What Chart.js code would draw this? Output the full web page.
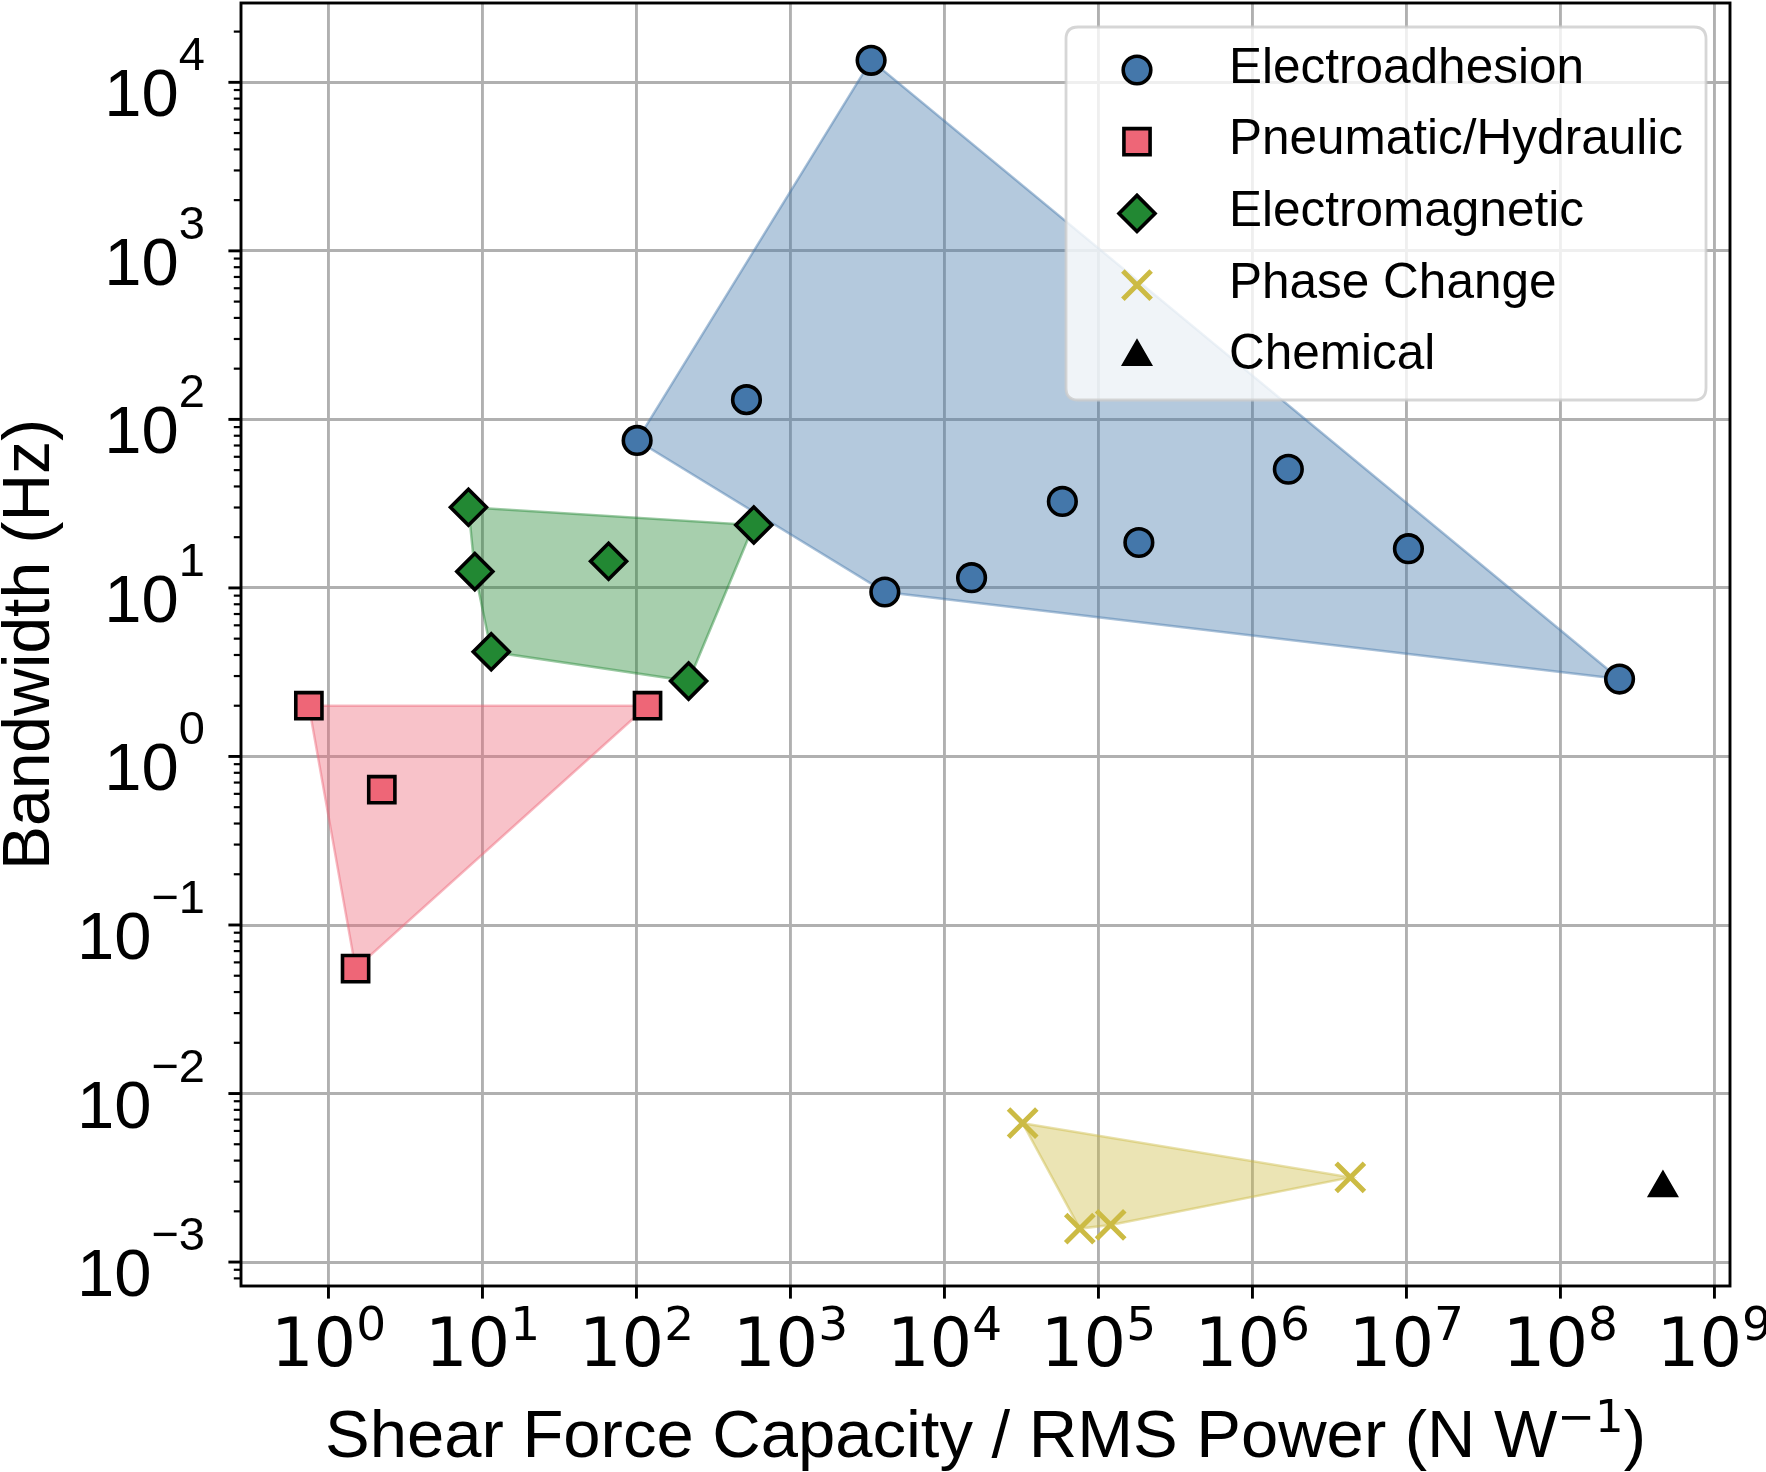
<!DOCTYPE html>
<html>
<head>
<meta charset="utf-8">
<script src="https://cdn.jsdelivr.net/npm/chart.js@4.4.1/dist/chart.umd.min.js"></script>
<style>
html,body{margin:0;padding:0;background:#ffffff;}
canvas{display:block;}
</style>
</head>
<body>
<canvas id="c" width="1766" height="1472"></canvas>
<script>
// ---------------- data ----------------
const seriesNames = ['Electroadhesion', 'Pneumatic/Hydraulic', 'Electromagnetic', 'Phase Change', 'Chemical'];

const electroX = [3340, 518, 101, 4100, 58300, 15000, 183000, 1710000, 10300000, 242000000];
const electroY = [13500, 131, 75, 9.46, 32.6, 11.5, 18.6, 50.6, 17.1, 2.88];
const electroHull = [2, 0, 9, 3];

const pneuX = [0.746, 118, 2.22, 1.50];
const pneuY = [2.0, 2.0, 0.635, 0.0551];
const pneuHull = [0, 1, 3];

const emagX = [8.11, 8.92, 65.9, 578, 11.4, 218];
const emagY = [30.1, 12.5, 14.4, 23.6, 4.18, 2.80];
const emagHull = [0, 3, 5, 4, 1];

const phaseX = [32200, 4320000, 75700, 120000];
const phaseY = [0.00667, 0.00318, 0.00158, 0.00166];
const phaseHull = [0, 1, 3, 2];

const chemX = [463000000];
const chemY = [0.00275];

const xTickExponents = [0, 1, 2, 3, 4, 5, 6, 7, 8, 9];
const yTickExponents = [-3, -2, -1, 0, 1, 2, 3, 4];
const yMinorMultipliers = [2, 3, 4, 5, 6, 7, 8, 9];

const xAxisMin = 0.2704, xAxisMax = 1.262e9;
const yAxisMin = 7.21e-4, yAxisMax = 2.956e4;

const xTitleParts = ['Shear Force Capacity / RMS Power (N W', '\u22121', ')'];
const yTitle = 'Bandwidth (Hz)';

// ---------------- styles ----------------
const colors = ['#4477AA', '#EE6677', '#228833', '#CCBB44', '#000000'];
const fills  = ['rgba(68,119,170,0.4)', 'rgba(238,102,119,0.4)', 'rgba(34,136,51,0.4)', 'rgba(204,187,68,0.4)'];
const edges  = ['rgba(68,119,170,0.45)', 'rgba(238,102,119,0.45)', 'rgba(34,136,51,0.45)', 'rgba(204,187,68,0.45)'];
const markerStyles = [
  {style: 'circle',   r: 13.8, fill: colors[0], stroke: '#000', bw: 3.6},
  {style: 'rect',     r: 18.5, fill: colors[1], stroke: '#000', bw: 3.6},
  {style: 'rectRot',  r: 18,   fill: colors[2], stroke: '#000', bw: 3.6},
  {style: 'crossRot', r: 20,   fill: colors[3], stroke: colors[3], bw: 5},
  {style: 'triangle', r: 16.5, fill: '#000',    stroke: '#000', bw: 2}
];

const SANS = "'Liberation Sans', Arial, sans-serif";
const DJV = "'DejaVu Sans', sans-serif";

function toPoints(xs, ys) { return xs.map((x, i) => ({x: x, y: ys[i]})); }
function toHull(xs, ys, idx) {
  const p = idx.map(i => ({x: xs[i], y: ys[i]}));
  p.push({x: xs[idx[0]], y: ys[idx[0]]});
  return p;
}

const pointSets = [[electroX, electroY], [pneuX, pneuY], [emagX, emagY], [phaseX, phaseY], [chemX, chemY]];
const hullSets = [electroHull, pneuHull, emagHull, phaseHull];

const datasets = [];
hullSets.forEach((h, k) => {
  datasets.push({
    type: 'line',
    label: seriesNames[k] + ' region',
    data: toHull(pointSets[k][0], pointSets[k][1], h),
    showLine: true,
    fill: 'shape',
    backgroundColor: fills[k],
    borderColor: edges[k],
    borderWidth: 2.5,
    pointRadius: 0,
    tension: 0,
    order: 10
  });
});
pointSets.forEach((s, k) => {
  const m = markerStyles[k];
  datasets.push({
    type: 'scatter',
    label: seriesNames[k],
    data: toPoints(s[0], s[1]),
    pointStyle: m.style,
    pointRadius: m.r,
    pointHoverRadius: m.r,
    backgroundColor: m.fill,
    borderColor: m.stroke,
    pointBackgroundColor: m.fill,
    pointBorderColor: m.stroke,
    pointBorderWidth: m.bw,
    pointHoverBorderWidth: m.bw,
    order: 0
  });
});

function drawMarker(ctx, m, x, y) {
  const r = m.r;
  ctx.save();
  ctx.beginPath();
  if (m.style === 'circle') {
    ctx.arc(x, y, r, 0, 2 * Math.PI);
  } else if (m.style === 'rect') {
    const s = Math.SQRT1_2 * r;
    ctx.rect(x - s, y - s, 2 * s, 2 * s);
  } else if (m.style === 'rectRot') {
    ctx.moveTo(x - r, y); ctx.lineTo(x, y - r); ctx.lineTo(x + r, y); ctx.lineTo(x, y + r); ctx.closePath();
  } else if (m.style === 'crossRot') {
    const o = Math.SQRT1_2 * r;
    ctx.moveTo(x - o, y - o); ctx.lineTo(x + o, y + o);
    ctx.moveTo(x - o, y + o); ctx.lineTo(x + o, y - o);
  } else if (m.style === 'triangle') {
    const a = 2 * Math.PI / 3;
    ctx.moveTo(x, y - r);
    ctx.lineTo(x + Math.sin(a) * r, y - Math.cos(a) * r);
    ctx.lineTo(x + Math.sin(2 * a) * r, y - Math.cos(2 * a) * r);
    ctx.closePath();
  }
  if (m.style !== 'crossRot') { ctx.fillStyle = m.fill; ctx.fill(); }
  ctx.lineWidth = m.bw; ctx.strokeStyle = m.stroke; ctx.stroke();
  ctx.restore();
}

const decorPlugin = {
  id: 'decor',
  afterDatasetsDraw(chart) {
    const ctx = chart.ctx;
    const a = chart.chartArea;
    const xs = chart.scales.x, ys = chart.scales.y;
    ctx.save();
    // frame
    ctx.strokeStyle = '#000'; ctx.lineWidth = 2.9;
    ctx.strokeRect(a.left, a.top, a.right - a.left, a.bottom - a.top);

    // x ticks + labels
    ctx.lineWidth = 2.9;
    xTickExponents.forEach(e => {
      const px = xs.getPixelForValue(Math.pow(10, e));
      ctx.beginPath(); ctx.moveTo(px, a.bottom); ctx.lineTo(px, a.bottom + 12.6); ctx.stroke();
      ctx.fillStyle = '#000'; ctx.textBaseline = 'alphabetic'; ctx.textAlign = 'left';
      ctx.font = '67px ' + DJV;
      const wb = ctx.measureText('10').width;
      ctx.font = '47px ' + DJV;
      const we = ctx.measureText(String(e)).width;
      const start = px - (wb + we) / 2;
      ctx.font = '67px ' + DJV;
      ctx.fillText('10', start, 1366);
      ctx.font = '47px ' + DJV;
      ctx.fillText(String(e), start + wb, 1340);
    });

    // y ticks + labels
    yTickExponents.forEach(e => {
      const py = ys.getPixelForValue(Math.pow(10, e));
      ctx.lineWidth = 2.9;
      ctx.beginPath(); ctx.moveTo(a.left, py); ctx.lineTo(a.left - 12.6, py); ctx.stroke();
      const expStr = e < 0 ? '\u2212' + String(-e) : String(e);
      ctx.fillStyle = '#000'; ctx.textBaseline = 'alphabetic'; ctx.textAlign = 'left';
      ctx.font = '67px ' + SANS;
      const wb = ctx.measureText('10').width;
      ctx.font = '47px ' + SANS;
      const we = ctx.measureText(expStr).width;
      const start = 205 - (wb + we);
      ctx.font = '67px ' + SANS;
      ctx.fillText('10', start, py + 34);
      ctx.font = '47px ' + SANS;
      ctx.fillText(expStr, start + wb, py - 12);
    });
    // y minor ticks
    ctx.lineWidth = 2.2;
    for (let e = -4; e <= 4; e++) {
      yMinorMultipliers.forEach(mm => {
        const v = mm * Math.pow(10, e);
        if (v < yAxisMin || v > yAxisMax) return;
        const py = ys.getPixelForValue(v);
        ctx.beginPath(); ctx.moveTo(a.left, py); ctx.lineTo(a.left - 7.2, py); ctx.stroke();
      });
    }

    // x title
    ctx.fillStyle = '#000'; ctx.textAlign = 'left'; ctx.textBaseline = 'alphabetic';
    ctx.font = '67px ' + SANS;
    const w1 = ctx.measureText(xTitleParts[0]).width;
    const w3 = ctx.measureText(xTitleParts[2]).width;
    ctx.font = '45px ' + DJV;
    const w2 = ctx.measureText(xTitleParts[1]).width;
    const cx = (a.left + a.right) / 2;
    let sx = cx - (w1 + w2 + w3) / 2;
    ctx.font = '67px ' + SANS;
    ctx.fillText(xTitleParts[0], sx, 1457);
    ctx.font = '45px ' + DJV;
    ctx.fillText(xTitleParts[1], sx + w1, 1432);
    ctx.font = '67px ' + SANS;
    ctx.fillText(xTitleParts[2], sx + w1 + w2, 1457);

    // y title
    ctx.save();
    ctx.translate(49, (a.top + a.bottom) / 2);
    ctx.rotate(-Math.PI / 2);
    ctx.font = '66px ' + SANS;
    ctx.textAlign = 'center';
    ctx.fillText(yTitle, 0, 0);
    ctx.restore();

    // legend
    const lx = 1066, ly = 27, lw = 640, lh = 373, rr = 12;
    ctx.beginPath();
    ctx.moveTo(lx + rr, ly);
    ctx.lineTo(lx + lw - rr, ly); ctx.quadraticCurveTo(lx + lw, ly, lx + lw, ly + rr);
    ctx.lineTo(lx + lw, ly + lh - rr); ctx.quadraticCurveTo(lx + lw, ly + lh, lx + lw - rr, ly + lh);
    ctx.lineTo(lx + rr, ly + lh); ctx.quadraticCurveTo(lx, ly + lh, lx, ly + lh - rr);
    ctx.lineTo(lx, ly + rr); ctx.quadraticCurveTo(lx, ly, lx + rr, ly);
    ctx.closePath();
    ctx.fillStyle = 'rgba(255,255,255,0.8)'; ctx.fill();
    ctx.strokeStyle = 'rgba(204,204,204,0.8)'; ctx.lineWidth = 2.8; ctx.stroke();
    seriesNames.forEach((name, k) => {
      const ry = 70 + k * 71.7;
      drawMarker(ctx, markerStyles[k], 1137, ry);
      ctx.fillStyle = '#000'; ctx.font = '49.5px ' + SANS; ctx.textAlign = 'left'; ctx.textBaseline = 'alphabetic';
      ctx.fillText(name, 1229, ry + 12.5);
    });
    ctx.restore();
  }
};

new Chart(document.getElementById('c'), {
  type: 'scatter',
  data: {datasets: datasets},
  options: {
    responsive: false,
    animation: false,
    events: [],
    layout: {autoPadding: false, padding: {left: 241, right: 36, top: 3, bottom: 186}},
    plugins: {legend: {display: false}, tooltip: {enabled: false}},
    scales: {
      x: {
        type: 'logarithmic', min: xAxisMin, max: xAxisMax, bounds: 'data',
        afterBuildTicks: s => { s.ticks = xTickExponents.map(e => ({value: Math.pow(10, e), major: true})); },
        ticks: {display: false},
        grid: {color: '#b0b0b0', lineWidth: 2.9, drawTicks: false},
        border: {display: false},
        title: {display: false}
      },
      y: {
        type: 'logarithmic', min: yAxisMin, max: yAxisMax, bounds: 'data',
        afterBuildTicks: s => { s.ticks = yTickExponents.map(e => ({value: Math.pow(10, e), major: true})); },
        ticks: {display: false},
        grid: {color: '#b0b0b0', lineWidth: 2.9, drawTicks: false},
        border: {display: false},
        title: {display: false}
      }
    }
  },
  plugins: [decorPlugin]
});
</script>
</body>
</html>
